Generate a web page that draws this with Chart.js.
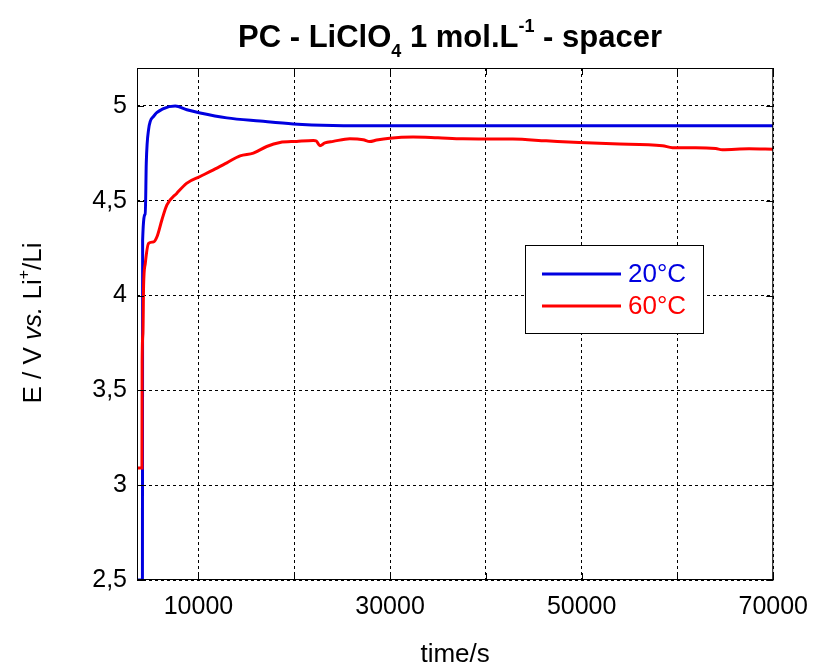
<!DOCTYPE html>
<html>
<head>
<meta charset="utf-8">
<script src="https://cdn.jsdelivr.net/npm/chart.js@4/dist/chart.umd.min.js"></script>
<style>
  body { margin: 0; background: #fff; }
  #wrap { width: 820px; height: 671px; }
</style>
</head>
<body>
<div id="wrap"><canvas id="chart" width="820" height="671"></canvas></div>
<script>
// 20°C series (time in s, potential in V)
const time20 = [3583, 4150, 4170, 4448, 4552, 4792, 5312, 6354, 7573, 8792, 10177, 12958, 16427, 19896, 24031, 30000, 40000, 50000, 60000, 70000];
const volt20 = [2.5, 2.5, 4.29, 4.43, 4.70, 4.875, 4.945, 4.986, 5.0, 4.98, 4.963, 4.937, 4.92, 4.905, 4.897, 4.895, 4.895, 4.895, 4.895, 4.895];

// 60°C series
const time60 = [3583, 4100, 4120, 4200, 4270, 4448, 4792, 5312, 5667, 6187, 6708, 7750, 8792, 10177, 11563, 12958, 14344, 15729, 17125, 18510, 20250, 21979, 22300, 22677, 23200, 24063, 25798, 27200, 27880, 28600, 29969, 32396, 35000, 37604, 42813, 46293, 49761, 53230, 58439, 59481, 61917, 64000, 64689, 67471, 70000];
const volt60 = [3.09, 3.09, 3.645, 3.8, 4.05, 4.17, 4.275, 4.283, 4.31, 4.40, 4.478, 4.54, 4.593, 4.628, 4.663, 4.70, 4.737, 4.751, 4.786, 4.807, 4.813, 4.818, 4.815, 4.79, 4.805, 4.813, 4.827, 4.822, 4.812, 4.82, 4.83, 4.836, 4.832, 4.827, 4.825, 4.816, 4.807, 4.80, 4.79, 4.78, 4.78, 4.775, 4.769, 4.774, 4.772];

const seriesLabels = ['20°C', '60°C'];
const seriesColors = ['#0000e0', '#ff0000'];

const xTicks = [10000, 20000, 30000, 40000, 50000, 60000, 70000];
const xLabeled = [10000, 30000, 50000, 70000];
const yTicks = [2.5, 3, 3.5, 4, 4.5, 5];

const FONT = "'Liberation Sans', Arial, sans-serif";

function toPoints(xs, ys) {
    return xs.map((x, i) => ({ x: x, y: ys[i] }));
}

// draw a run of text pieces: [text, font, dy]
function drawRich(ctx, parts, x, y) {
    let cx = x;
    parts.forEach(p => {
        ctx.font = p[1];
        ctx.fillText(p[0], cx, y + (p[2] || 0));
        cx += ctx.measureText(p[0]).width;
    });
}

function richWidth(ctx, parts) {
    let w = 0;
    parts.forEach(p => {
        ctx.font = p[1];
        w += ctx.measureText(p[0]).width;
    });
    return w;
}

const framePlugin = {
    id: 'frame',
    afterDraw(chart) {
        const ctx = chart.ctx;
        const a = chart.chartArea;
        const xs = chart.scales.x;
        const ys = chart.scales.y;
        ctx.save();

        // frame
        ctx.strokeStyle = '#000';
        ctx.lineWidth = 1;
        ctx.setLineDash([]);
        ctx.strokeRect(a.left + 0.5, a.top + 0.5, a.right - a.left - 1, a.bottom - a.top - 1);

        // inward tick marks
        ctx.beginPath();
        xTicks.forEach(v => {
            const px = Math.round(xs.getPixelForValue(v)) + 0.5;
            ctx.moveTo(px, a.bottom); ctx.lineTo(px, a.bottom - 7);
            ctx.moveTo(px, a.top); ctx.lineTo(px, a.top + 7);
        });
        yTicks.forEach(v => {
            const py = Math.round(ys.getPixelForValue(v)) + 0.5;
            ctx.moveTo(a.left, py); ctx.lineTo(a.left + 7, py);
            ctx.moveTo(a.right, py); ctx.lineTo(a.right - 7, py);
        });
        ctx.stroke();

        // legend box
        const lx = 525, ly = 245, lw = 178, lh = 88;
        ctx.fillStyle = '#fff';
        ctx.fillRect(lx, ly, lw, lh);
        ctx.strokeStyle = '#000';
        ctx.strokeRect(lx + 0.5, ly + 0.5, lw, lh);
        ctx.textBaseline = 'middle';
        ctx.textAlign = 'left';
        ctx.font = '26px ' + FONT;
        seriesLabels.forEach((lab, i) => {
            const yy = 274 + i * 32;
            ctx.strokeStyle = seriesColors[i];
            ctx.lineWidth = 3;
            ctx.beginPath();
            ctx.moveTo(542, yy);
            ctx.lineTo(621, yy);
            ctx.stroke();
            ctx.fillStyle = seriesColors[i];
            ctx.fillText(lab, 628, yy + 1);
        });

        // title with sub/superscripts
        ctx.fillStyle = '#000';
        ctx.textBaseline = 'alphabetic';
        const tb = 'bold 31px ' + FONT;
        const ts = 'bold 18px ' + FONT;
        const titleParts = [
            ['PC - LiClO', tb, 0],
            ['4', ts, 10],
            [' 1 mol.L', tb, 0],
            ['-1', ts, -15],
            [' - spacer', tb, 0]
        ];
        const tw = richWidth(ctx, titleParts);
        drawRich(ctx, titleParts, 450 - tw / 2, 47);

        // x axis title
        ctx.font = '26px ' + FONT;
        ctx.textAlign = 'center';
        ctx.fillText('time/s', (a.left + a.right) / 2, 662);

        // y axis title (rotated)
        ctx.textAlign = 'left';
        const n = '26px ' + FONT;
        const yParts = [
            ['E / V ', n, 0],
            ['vs.', 'italic 26px ' + FONT, 0],
            [' Li', n, 0],
            ['+', '16px ' + FONT, -12],
            ['/Li', n, 0]
        ];
        const yw = richWidth(ctx, yParts);
        ctx.translate(41, 323);
        ctx.rotate(-Math.PI / 2);
        drawRich(ctx, yParts, -yw / 2, 0);
        ctx.restore();
    }
};

new Chart(document.getElementById('chart'), {
    type: 'line',
    data: {
        datasets: [
            {
                label: seriesLabels[0],
                data: toPoints(time20, volt20),
                borderColor: seriesColors[0],
                borderWidth: 3,
                pointRadius: 0,
                cubicInterpolationMode: 'monotone',
                order: 1
            },
            {
                label: seriesLabels[1],
                data: toPoints(time60, volt60),
                borderColor: seriesColors[1],
                borderWidth: 3,
                pointRadius: 0,
                cubicInterpolationMode: 'monotone',
                order: 0
            }
        ]
    },
    options: {
        responsive: false,
        animation: false,
        layout: { padding: { left: 0, top: 68, right: 45, bottom: 0 } },
        plugins: {
            legend: { display: false },
            title: { display: false },
            tooltip: { enabled: false }
        },
        scales: {
            x: {
                type: 'linear',
                min: 3583,
                max: 70000,
                afterBuildTicks: (scale) => { scale.ticks = xTicks.map(v => ({ value: v })); },
                afterFit: (scale) => { scale.height = 91; },
                ticks: {
                    autoSkip: false,
                    maxRotation: 0,
                    padding: 12,
                    color: '#000',
                    font: { family: FONT, size: 25 },
                    callback: (v) => xLabeled.includes(v) ? String(v) : ''
                },
                grid: { color: '#000', lineWidth: 1, drawTicks: false },
                border: { display: false, dash: [3, 3] }
            },
            y: {
                min: 2.5,
                max: 5.2,
                afterBuildTicks: (scale) => { scale.ticks = yTicks.map(v => ({ value: v })); },
                afterFit: (scale) => { scale.width = 137; },
                ticks: {
                    padding: 10,
                    color: '#000',
                    font: { family: FONT, size: 25 },
                    callback: (v) => String(v).replace('.', ',')
                },
                grid: { color: '#000', lineWidth: 1, drawTicks: false },
                border: { display: false, dash: [3, 3] }
            }
        }
    },
    plugins: [framePlugin]
});
</script>
</body>
</html>
